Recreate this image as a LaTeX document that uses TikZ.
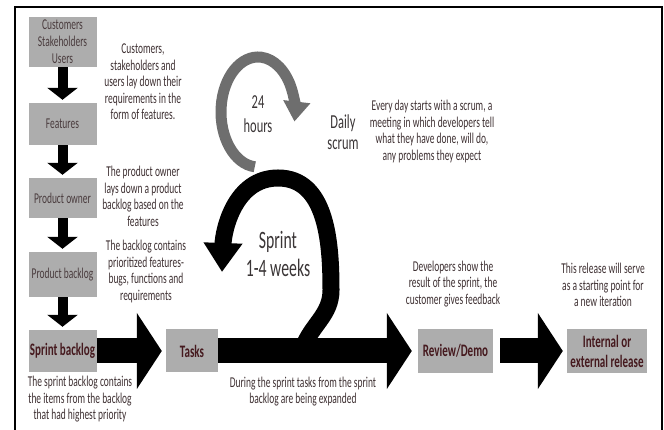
\documentclass[tikz,border=0pt]{standalone}
\usepackage{fontspec}
\setmainfont[FakeStretch=0.63]{Carlito}
\usepackage{tikz}
\usetikzlibrary{arrows.meta,positioning}
\definecolor{boxgray}{HTML}{ADADAD}
\definecolor{boxtext}{HTML}{4A3C3E}
\definecolor{maroon}{HTML}{45191E}
\definecolor{desctext}{HTML}{3E3032}
\definecolor{ringgray}{HTML}{6E6E6E}
\definecolor{labelgray}{HTML}{3A3536}

\begin{document}
\begin{tikzpicture}[x=1pt, y=1pt,
        box/.style={fill=boxgray, minimum width=68pt, minimum height=42pt, inner sep=1pt, align=center, text=boxtext, font=\fontsize{15}{17}\selectfont},
        boldbox/.style={box, text=maroon, font=\fontsize{17.5}{20}\selectfont\bfseries},
        desc/.style={align=center, inner sep=0pt, text=desctext, font=\fontsize{15}{16.5}\selectfont},
        biglabel/.style={align=center, inner sep=0pt, text=labelgray},
        down/.style={line width=10pt, -{Triangle[width=30pt, length=12pt]}, shorten >=3pt},
        fat/.style={line width=25pt, -{Triangle[width=75pt, length=25pt]}}
    ]
    \useasboundingbox (0,0) rectangle (664,430);
    % Frame
    \draw[line width=2pt] (15,0) -- (15,423) -- (662,423) -- (662,0);

    % Left column
    \node[box, minimum height=50pt] (cust) at (62.5,388) {Customers\\Stakeholders\\Users};
    \node[box] (feat) at (62.5,306) {Features};
    \node[box, minimum height=40pt] (po) at (62.5,232) {Product owner};
    \node[box, minimum height=45pt] (pb) at (62.5,155.5) {Product backlog};
    \node[boldbox] (sb) at (62.5,79) {Sprint backlog};

    % Bottom row
    \node[boldbox, minimum width=52pt, minimum height=43pt] (tasks) at (192,79) {Tasks};
    \node[boldbox, minimum width=75pt, minimum height=44pt] (review) at (455.5,79) {Review/Demo};
    \node[boldbox, minimum width=80pt, minimum height=44pt] (release) at (607,79) {Internal or\\external release};

    % Arrows
    \draw[down] (cust) -- (feat);
    \draw[down] (feat) -- (po);
    \draw[down] (po) -- (pb);
    \draw[down] (pb) -- (sb);

    % Daily scrum loop
    \coordinate (hc) at (258,318);
    \draw[ringgray, line width=11pt, -{Triangle[width=26pt, length=20pt]}]
        ([shift={(265:37 and 55)}]hc) arc[start angle=265, end angle=-10, x radius=37, y radius=55];

    % Sprint loop
    \draw[line width=17pt, -{Triangle[width=37pt, length=29pt]}]
        (303,82) to[out=70, in=-90] (331,140) to[out=90, in=0] (278,252) to[out=180, in=88] (222,158);

    \draw[fat, shorten >=4pt] (sb) -- (tasks);
    \draw[fat, shorten >=6pt] (tasks) -- (review);
    \draw[fat, shorten <=7pt, shorten >=4pt] (review) -- (release);

    % Loop labels
    \node[biglabel, font=\fontsize{19.8}{24}\selectfont] (hours) at (258,315.5) {24\\hours};
    \node[biglabel, font=\fontsize{19.8}{21}\selectfont] (daily) at (343,297.5) {Daily\\scrum};
    \node[biglabel, font=\fontsize{25}{28}\selectfont] (sprint) at (278,176) {Sprint\\1-4 weeks};

    % Descriptions
    \node[desc] (custtxt) at (143,348) {Customers,\\stakeholders and\\users lay down their\\requirements in the\\form of features.};
    \node[desc] (potxt) at (143,233.5) {The product owner\\lays down a product\\backlog based on the\\features};
    \node[desc] (pbtxt) at (146,158.5) {The backlog contains\\prioritized features-\\bugs, functions and\\requirements};
    \node[desc] (sbtxt) at (80,30.5) {The sprint backlog contains\\the items from the backlog\\that had highest priority};
    \node[desc] (tasktxt) at (303,38.5) {During the sprint tasks from the sprint\\backlog are being expanded};
    \node[desc] (scrumtxt) at (432,298.5) {Every day starts with a scrum, a\\meeting in which developers tell\\what they have done, will do,\\any problems they expect};
    \node[desc] (reviewtxt) at (453,146) {Developers show the\\result of the sprint, the\\customer gives feedback};
    \node[desc] (releasetxt) at (603,145) {This release will serve\\as a starting point for\\a new iteration};

\end{tikzpicture}
\end{document}
